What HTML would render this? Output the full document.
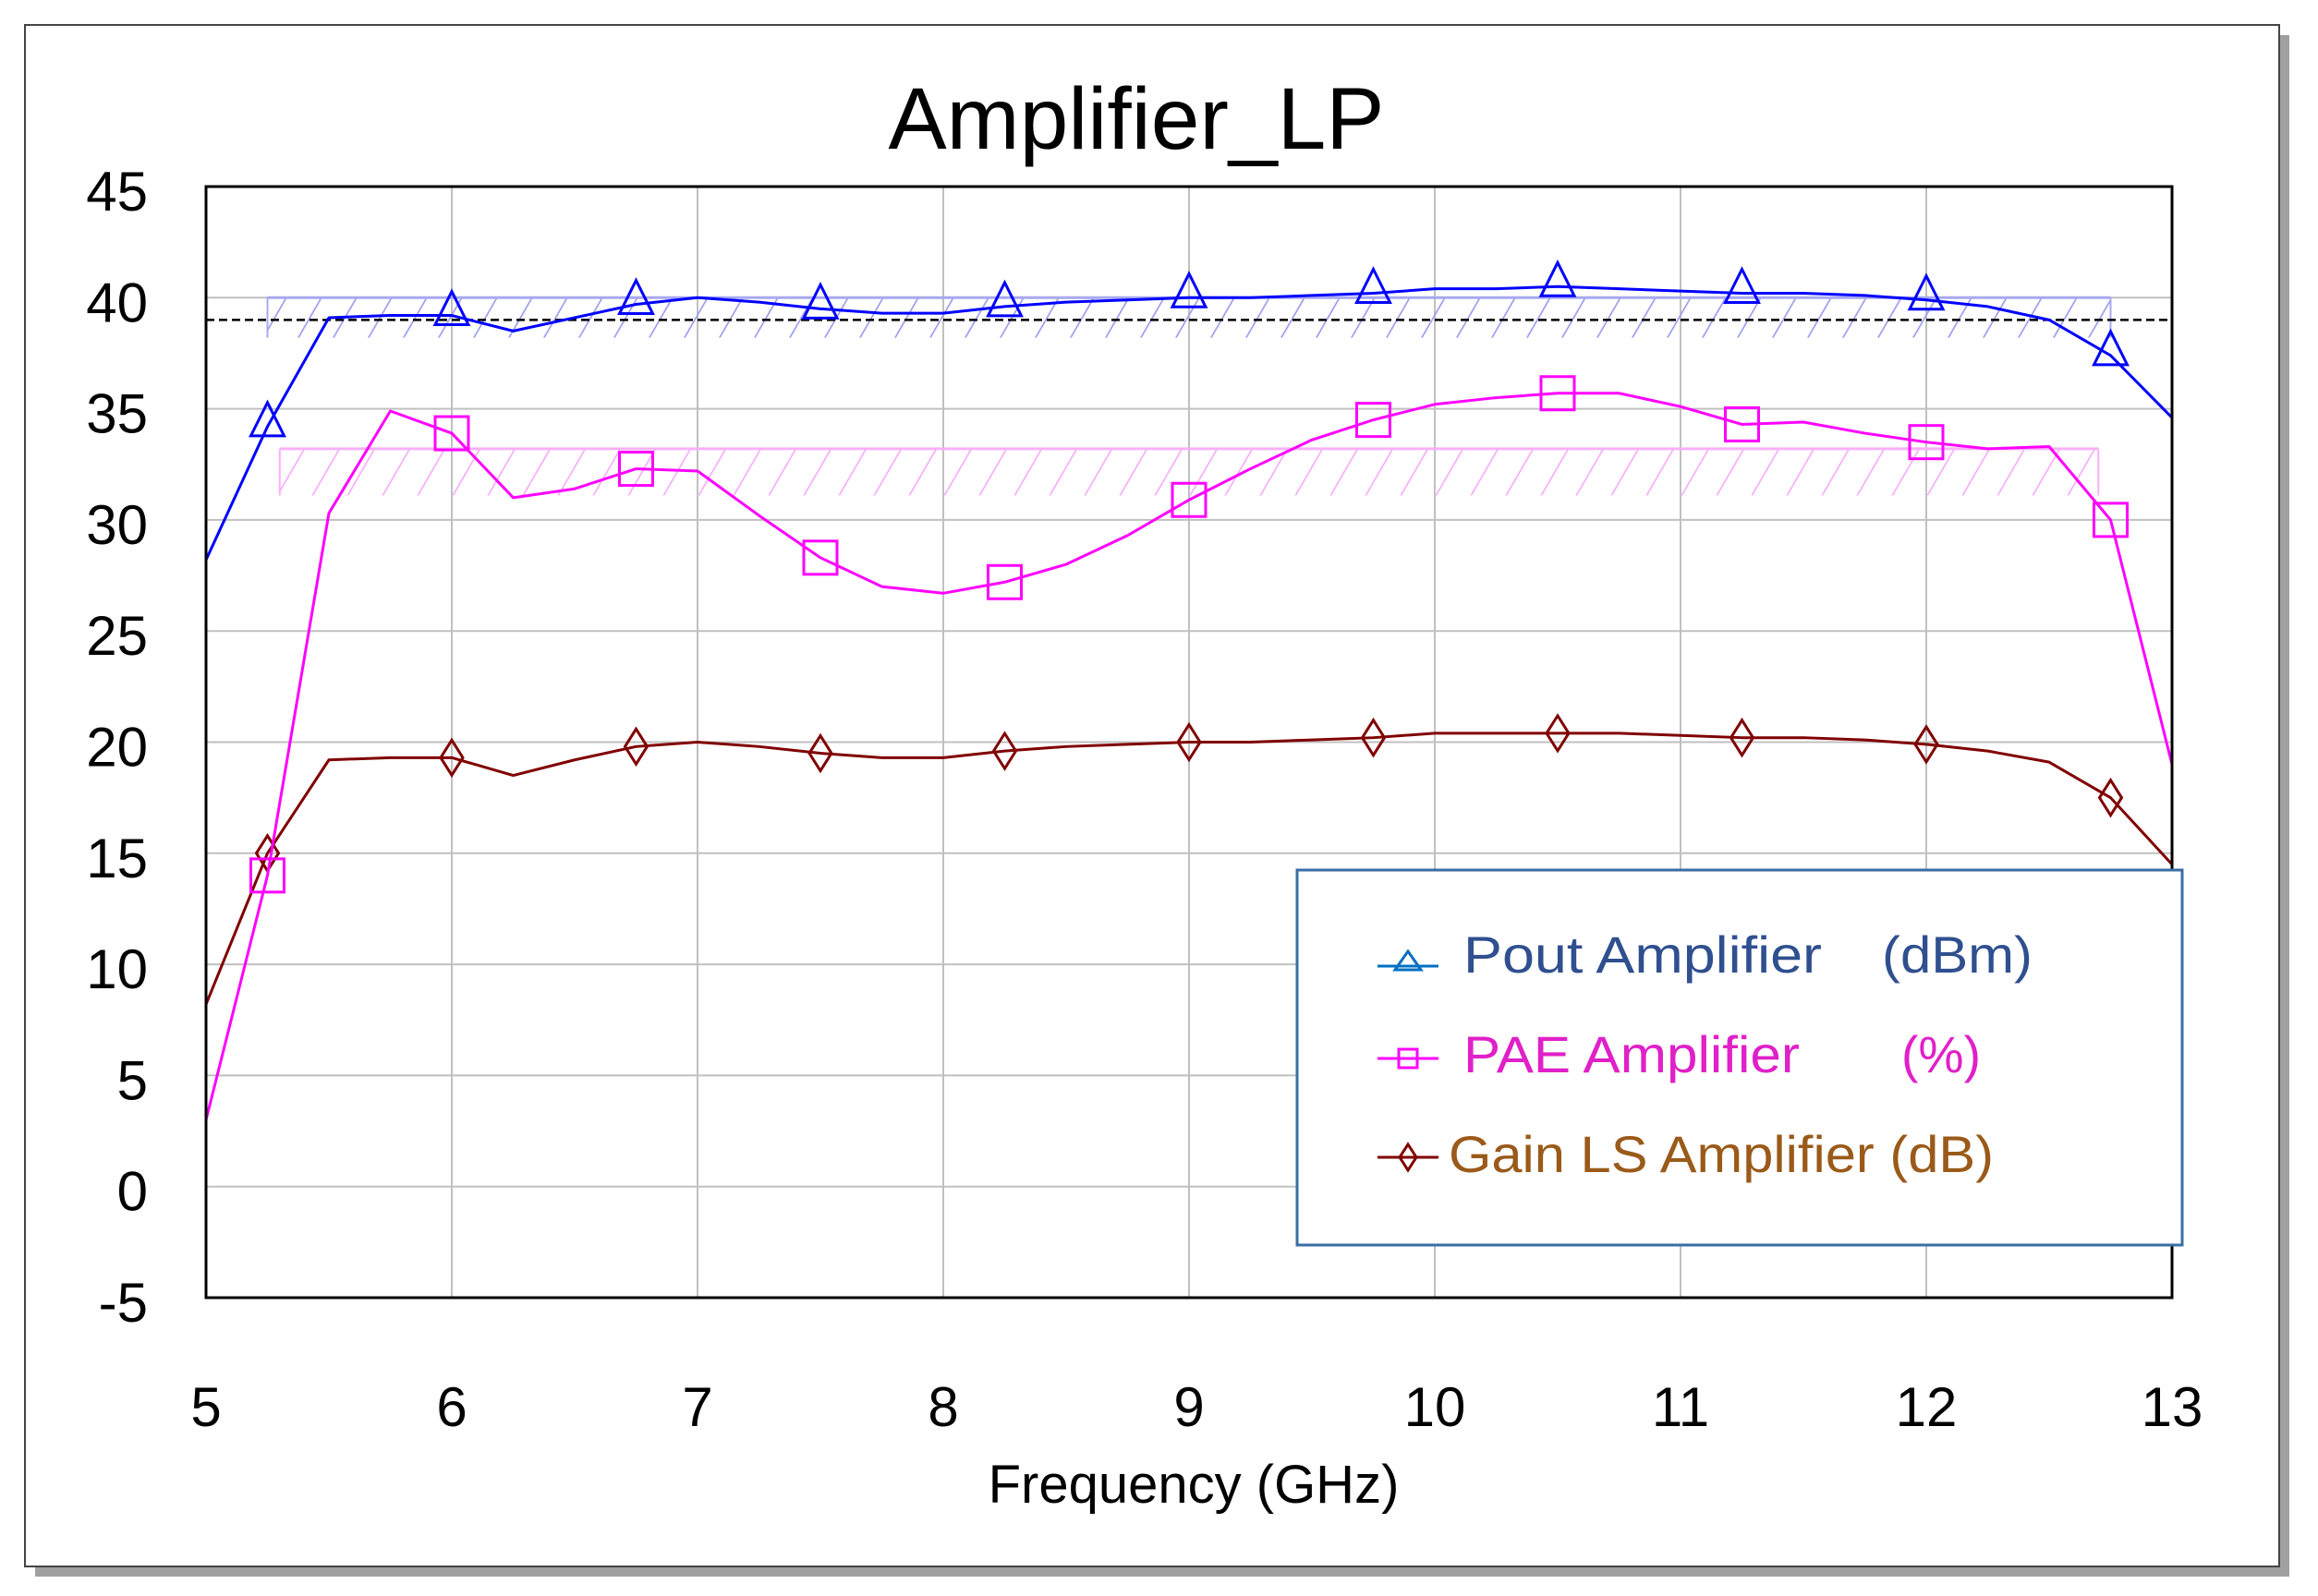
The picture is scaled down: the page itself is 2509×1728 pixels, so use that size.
<!DOCTYPE html>
<html><head><meta charset="utf-8"><style>
html,body{margin:0;padding:0;background:#fff;}
svg{display:block;}
</style></head><body>
<svg id="chart" width="2509" height="1728" viewBox="0 0 2509 1728" xmlns="http://www.w3.org/2000/svg">
<defs>
<pattern id="hb" patternUnits="userSpaceOnUse" width="38" height="60" patternTransform="skewX(-30)">
<line x1="2" y1="0" x2="2" y2="60" stroke="#a0a0f0" stroke-width="2"/></pattern>
<pattern id="hp" patternUnits="userSpaceOnUse" width="38" height="60" patternTransform="skewX(-30)">
<line x1="2" y1="0" x2="2" y2="60" stroke="#f8b0f8" stroke-width="2"/></pattern>
</defs>
<rect x="38" y="38" width="2440" height="1669" fill="#a0a0a0"/>
<rect x="27" y="27" width="2440" height="1669" fill="#fff" stroke="#444" stroke-width="2"/>
<text x="1230" y="161" text-anchor="middle" font-family="'Liberation Sans Narrow','Liberation Sans',sans-serif" font-size="95" textLength="537" lengthAdjust="spacingAndGlyphs">Amplifier_LP</text>
<g id="grid"></g>
<g id="bands"></g>
<g id="series"></g>
<rect x="223" y="202" width="2128" height="1203" fill="none" stroke="#000" stroke-width="3"/>
<g id="ticks"></g>
<text x="1292" y="1627" text-anchor="middle" font-family="'Liberation Sans',sans-serif" font-size="58">Frequency (GHz)</text>
<g>
<rect x="1404" y="942" width="958" height="406" fill="#fff" stroke="#3a6ea5" stroke-width="3"/>
<g>
<line x1="1491" y1="1046" x2="1557" y2="1046" stroke="#0070c0" stroke-width="3"/>
<polygon points="1524,1030 1538,1050 1510,1050" fill="none" stroke="#0070c0" stroke-width="3"/>
<text x="1584" y="1053" font-family="'Liberation Sans Narrow','Liberation Sans',sans-serif" font-size="56" fill="#2f4f8f" textLength="388" lengthAdjust="spacingAndGlyphs">Pout Amplifier</text>
<text x="2037" y="1053" font-family="'Liberation Sans Narrow','Liberation Sans',sans-serif" font-size="56" fill="#2f4f8f" textLength="163" lengthAdjust="spacingAndGlyphs">(dBm)</text>
</g>
<g>
<line x1="1491" y1="1146" x2="1557" y2="1146" stroke="#ff00ff" stroke-width="3"/>
<rect x="1514" y="1136" width="20" height="20" fill="none" stroke="#ff00ff" stroke-width="3"/>
<text x="1584" y="1161" font-family="'Liberation Sans Narrow','Liberation Sans',sans-serif" font-size="56" fill="#e020c8" textLength="364" lengthAdjust="spacingAndGlyphs">PAE Amplifier</text>
<text x="2058" y="1161" font-family="'Liberation Sans Narrow','Liberation Sans',sans-serif" font-size="56" fill="#e020c8" textLength="86" lengthAdjust="spacingAndGlyphs">(%)</text>
</g>
<g>
<line x1="1491" y1="1253" x2="1557" y2="1253" stroke="#800000" stroke-width="3"/>
<polygon points="1524,1239 1533,1253 1524,1267 1515,1253" fill="none" stroke="#800000" stroke-width="3"/>
<text x="1568" y="1269" font-family="'Liberation Sans Narrow','Liberation Sans',sans-serif" font-size="56" fill="#9a5a1a" textLength="590" lengthAdjust="spacingAndGlyphs">Gain LS Amplifier (dB)</text>
</g>
</g>
</svg>
<script>
const freqs=[5,5.25,5.5,5.75,6,6.25,6.5,6.75,7,7.25,7.5,7.75,8,8.25,8.5,8.75,9,9.25,9.5,9.75,10,10.25,10.5,10.75,11,11.25,11.5,11.75,12,12.25,12.5,12.75,13];
const pout=[28.2,34.2,39.1,39.2,39.2,38.5,39.1,39.7,40.0,39.8,39.5,39.3,39.3,39.6,39.8,39.9,40.0,40.0,40.1,40.2,40.4,40.4,40.5,40.4,40.3,40.2,40.2,40.1,39.9,39.6,39.0,37.4,34.6];
const pae=[3.0,14.0,30.3,34.9,33.9,31.0,31.4,32.3,32.2,30.2,28.3,27.0,26.7,27.2,28.0,29.3,30.9,32.3,33.6,34.5,35.2,35.5,35.7,35.7,35.1,34.3,34.4,33.9,33.5,33.2,33.3,30.0,19.0];
const gain=[8.2,15.0,19.2,19.3,19.3,18.5,19.2,19.8,20.0,19.8,19.5,19.3,19.3,19.6,19.8,19.9,20.0,20.0,20.1,20.2,20.4,20.4,20.4,20.4,20.3,20.2,20.2,20.1,19.9,19.6,19.1,17.5,14.5];
const markerFreqs=[5.25,6,6.75,7.5,8.25,9,9.75,10.5,11.25,12,12.75];
const xTicks=[5,6,7,8,9,10,11,12,13];
const yTicks=[-5,0,5,10,15,20,25,30,35,40,45];
const poutBand=[5.25,12.75,38.2,40];
const paeBand=[5.3,12.7,31.1,33.2];
const refLine=[39];

const NS='http://www.w3.org/2000/svg';
const X0=223,X1=2351,Y0=1405,Y1=202;
const xs=f=>X0+(f-5)/(13-5)*(X1-X0);
const ys=v=>Y0-(v+5)/(50)*(Y0-Y1);
function mk(tag,attrs,parent){const e=document.createElementNS(NS,tag);for(const k in attrs)e.setAttribute(k,attrs[k]);parent.appendChild(e);return e;}
const grid=document.getElementById('grid'),ticks=document.getElementById('ticks'),bands=document.getElementById('bands'),series=document.getElementById('series');
xTicks.forEach(t=>{
 const l=mk('line',{x1:xs(t),x2:xs(t),y1:Y1,y2:Y0,stroke:'#c0c0c0','stroke-width':2},grid);
 
 
 const tx=mk('text',{x:xs(t),y:1544,'text-anchor':'middle','font-family':"'Liberation Sans',sans-serif",'font-size':60},ticks);
 tx.textContent=t;
 
 
});
yTicks.forEach(t=>{
 const l=mk('line',{x1:X0,x2:X1,y1:ys(t),y2:ys(t),stroke:'#c0c0c0','stroke-width':2},grid);
 
 
 const tx=mk('text',{x:160,y:ys(t)+26,'text-anchor':'end','font-family':"'Liberation Sans',sans-serif",'font-size':60},ticks);
 tx.textContent=t;
 
 
});
function band(b,pat,col,name){
 const r=mk('rect',{x:xs(b[0]),y:ys(b[3]),width:xs(b[1])-xs(b[0]),height:ys(b[2])-ys(b[3]),fill:'url(#'+pat+')'},bands);
 
 
 mk('line',{x1:xs(b[0]),x2:xs(b[1]),y1:ys(b[3]),y2:ys(b[3]),stroke:col,'stroke-width':3},bands);
 mk('line',{x1:xs(b[0]),x2:xs(b[0]),y1:ys(b[3]),y2:ys(b[2]),stroke:col,'stroke-width':2},bands);
 mk('line',{x1:xs(b[1]),x2:xs(b[1]),y1:ys(b[3]),y2:ys(b[2]),stroke:col,'stroke-width':2},bands);
}
band(poutBand,'hb','#a8a8f0','pout-spec-band');
band(paeBand,'hp','#f8b0f8','pae-spec-band');
const rl=mk('line',{x1:X0,x2:X1,y1:ys(refLine[0]),y2:ys(refLine[0]),stroke:'#000','stroke-width':2.5,'stroke-dasharray':'9,5'},bands);


function interp(arr,f){const i=freqs.indexOf(f);return arr[i];}
function drawSeries(arr,col,name,shape){
 const g=mk('g',{},series);
 
 
 const pl=mk('polyline',{points:freqs.map((f,i)=>xs(f)+','+ys(arr[i])).join(' '),fill:'none',stroke:col,'stroke-width':3,'stroke-linejoin':'round'},g);
 
 
 markerFreqs.forEach(f=>{
  const x=xs(f),y=ys(interp(arr,f));let m;
  if(shape==='tri') m=mk('polygon',{points:`${x},${y-26} ${x+18},${y+10} ${x-18},${y+10}`,fill:'none',stroke:col,'stroke-width':3},g);
  else if(shape==='sq') m=mk('rect',{x:x-18,y:y-18,width:36,height:36,fill:'none',stroke:col,'stroke-width':3},g);
  else m=mk('polygon',{points:`${x},${y-19} ${x+12},${y} ${x},${y+19} ${x-12},${y}`,fill:'none',stroke:col,'stroke-width':3},g);
  
  
 });
}
drawSeries(gain,'#800000','gain-series','dia');
drawSeries(pae,'#ff00ff','pae-series','sq');
drawSeries(pout,'#0000ff','pout-series','tri');
</script>
</body></html>
